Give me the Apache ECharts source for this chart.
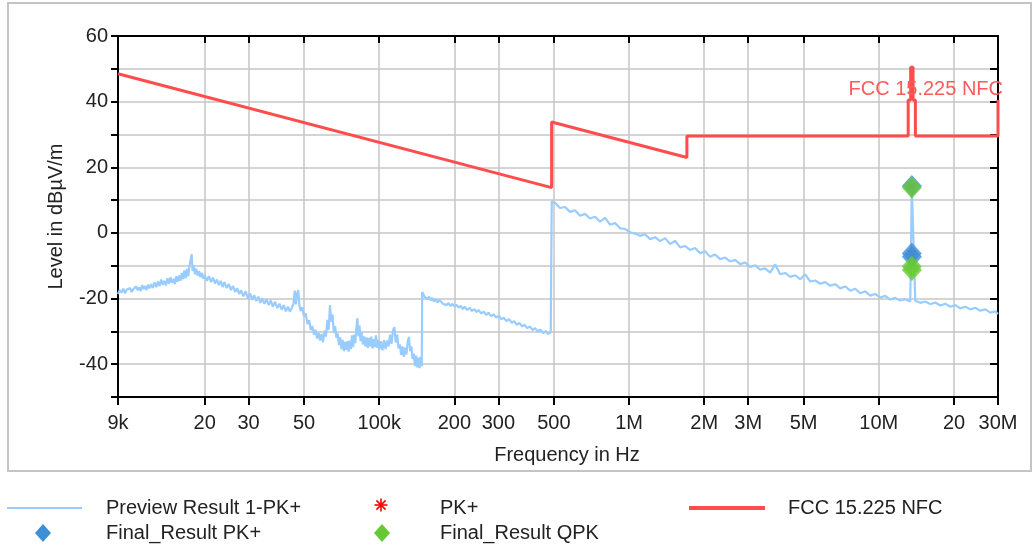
<!DOCTYPE html>
<html>
<head>
<meta charset="utf-8">
<script src="https://cdn.jsdelivr.net/npm/echarts@6/dist/echarts.min.js"></script>
<style>
html,body{margin:0;padding:0;background:#fff;}
#c{width:1033px;height:547px;}
</style>
</head>
<body>
<div id="c"></div>
<script>
// ---- data (frequencies in kHz, levels in dBµV/m) ----
const xTickValues = [9,20,30,50,100,200,300,500,1000,2000,3000,5000,10000,20000,30000];
const xTickLabels = ['9k','20','30','50','100k','200','300','500','1M','2M','3M','5M','10M','20','30M'];
const yTickLabels = [60,40,20,0,-20,-40];

const previewLowFreq = [9.00,9.15,9.30,9.45,9.60,9.75,9.90,10.05,10.20,10.35,10.50,10.65,10.80,10.95,11.10,11.25,11.40,11.55,11.70,11.85,12.00,12.20,12.40,12.60,12.80,13.00,13.20,13.40,13.60,13.80,14.00,14.20,14.40,14.60,14.80,15.00,15.20,15.40,15.60,15.80,16.00,16.20,16.40,16.60,16.80,17.00,17.20,17.40,17.60,17.75,17.90,18.10,18.30,18.50,18.75,19.00,19.25,19.50,19.75,20.00,
  20.4,20.8,21.2,21.6,22.0,22.4,22.8,23.2,23.6,24.0,24.5,25.0,25.5,26.0,26.5,27.0,27.5,28.0,28.6,29.2,29.8,30.4,31.0,31.6,32.2,32.8,33.4,34.0,34.7,35.4,36.1,36.8,37.5,38.3,39.1,39.9,40.7,41.5,42.3,43.1,43.9,44.7,45.4,45.9,46.4,46.9,47.4,47.9,48.4,
  49.2,50.0,50.8,51.6,52.4,53.2,54.0,54.8,55.6,56.4,57.2,58.0,58.8,59.6,60.4,61.2,62.0,62.8,63.5,64.2,65.0,65.8,66.6,67.4,68.2,69.0,69.8,70.6,71.4,72.2,73.0,73.8,74.6,75.4,76.2,77.0,77.8,78.6,79.4,80.2,81.0,81.8,82.6,83.4,84.2,85.0,86.0,87.0,88.0,89.0,90.0,91.0,92.0,93.0,94.0,95.0,96.0,97.0,98.0,99.0,100.0,101.5,103.0,104.5,106.0,107.5,109.0,110.5,112.0,113.5,115.0,116.5,118.0,119.5,121.0,122.5,124.0,125.5,127.0,128.5,130.0,131.5,133.0,134.5,136.0,137.5,139.0,140.5,142.0,143.5,145.0,146.5,148.0,148.4];
const previewLowLevel = [-18.6,-17.4,-18.2,-17.0,-18.4,-17.3,-17.9,-16.8,-18.0,-17.2,-17.6,-16.3,-17.5,-16.6,-17.7,-15.9,-17.1,-16.2,-17.4,-15.8,-16.9,-15.6,-16.8,-15.1,-16.5,-14.8,-16.2,-14.2,-15.8,-14.6,-16.0,-13.8,-15.5,-13.5,-15.2,-14.0,-15.6,-13.2,-14.9,-13.0,-14.6,-12.2,-14.1,-11.4,-13.8,-11.0,-13.2,-10.0,-8.0,-6.5,-11.6,-9.8,-12.6,-10.9,-13.0,-11.6,-13.5,-12.2,-14.0,-12.8,
  -14.6,-13.2,-15.0,-13.6,-15.4,-14.2,-15.9,-14.6,-16.5,-15.0,-16.8,-15.6,-17.4,-16.2,-18.0,-16.9,-18.6,-17.5,-19.3,-17.8,-20.0,-18.4,-20.4,-19.0,-20.8,-19.4,-21.3,-19.9,-21.6,-20.2,-22.0,-20.6,-22.5,-21.0,-22.9,-21.6,-23.4,-22.0,-23.9,-22.5,-24.0,-22.8,-21.5,-17.6,-21.8,-18.5,-17.4,-22.0,-23.8,
  -22.6,-25.5,-24.5,-27.8,-26.6,-29.6,-28.4,-31.0,-29.5,-32.2,-30.4,-32.8,-30.8,-33.3,-29.8,-31.6,-26.5,-29.5,-22.0,-27.0,-24.8,-30.5,-28.4,-32.0,-30.6,-34.2,-31.8,-35.4,-32.6,-36.0,-33.2,-35.6,-33.0,-36.2,-32.8,-35.4,-31.2,-34.8,-31.0,-33.6,-29.0,-26.0,-31.5,-28.2,-33.0,-30.2,-34.0,-31.5,-34.6,-31.8,-35.0,-32.0,-34.6,-31.6,-35.2,-32.4,-34.8,-31.2,-35.0,-32.6,-35.6,-33.0,-35.8,-32.6,-35.4,-32.8,-34.6,-31.0,-33.8,-29.8,-28.7,-33.4,-31.0,-35.2,-34.0,-37.2,-34.6,-37.8,-35.0,-37.0,-33.2,-31.7,-36.0,-34.6,-38.4,-36.8,-40.6,-37.4,-41.0,-38.0,-41.2,-37.8,-40.6,-40.0];

const previewMidFreq = [148.6,150.5,152.5,154.5,156.5,158.5,160.5,163,165.5,168,171,174,177,180,183,186,189.5,193,196.5,200,204,208,212,216,220,225,230,235,240,245,250,256,262,268,274,280,287,294,301,308,315,323,331,339,347,355,364,373,382,391,401,411,421,431,442,453,464,475,486,489.6];
const previewMidLevel = [-18.0,-18.6,-19.6,-19.0,-20.2,-19.4,-20.6,-19.8,-20.9,-20.2,-21.2,-20.4,-21.0,-21.6,-21.0,-22.0,-21.4,-22.3,-21.6,-22.4,-21.9,-22.8,-22.2,-23.2,-22.5,-23.5,-22.8,-23.8,-23.2,-24.1,-23.5,-24.5,-24.0,-25.0,-24.3,-25.4,-24.8,-25.8,-25.2,-26.3,-25.8,-26.9,-26.3,-27.4,-26.9,-28.0,-27.4,-28.5,-28.0,-29.0,-28.5,-29.6,-29.0,-30.0,-29.5,-30.5,-29.9,-30.8,-30.2,-30.6];

const previewHighFreq = [490.4,505.5,529.4,554.4,580.5,607.9,636.6,666.7,698.2,731.1,765.6,801.8,839.6,879.2,920.7,964.2,1009.7,1057.4,1107.3,1159.6,1214.3,1271.6,1331.7,1394.5,1460.4,1529.3,1601.5,1677.1,1756.2,1839.1,1925.9,2016.8,2112.0,2211.7,2316.1,2425.4,2539.9,2659.8,2785.3,2916.8,3054.5,3198.7,3349.6,3507.7,3673.3,3846.7,4028.3,4218.4,4417.5,4626.0,4844.4,5073.0,5312.5,5563.2,5825.8,6100.8,6388.8,6690.3,7006.1,7336.8,7683.1,8045.7,8425.5,8823.2,9239.6,9675.7,10132.4,10610.7,11111.5,11636.0,12185.2,12760.4,13362.7,13555,13565,13993.4,14653.9,15345.5,16069.9,16828.4,17622.7,18454.5,19325.6,20237.8,21193.0,22193.3,23240.9,24337.9,25486.7,26689.6,27949.4,29268.6,30000];
const previewHighLevel = [9.6,9.2,7.6,7.9,6.4,6.9,5.2,5.8,4.4,4.9,3.4,4.6,2.5,3.0,1.4,1.2,0.2,-0.2,-0.9,-0.4,-1.9,-1.3,-2.5,-1.6,-3.4,-2.4,-4.4,-4.0,-5.2,-4.6,-6.2,-5.6,-7.3,-6.6,-8.0,-7.5,-8.7,-8.2,-9.5,-9.0,-10.4,-9.9,-11.2,-10.8,-12.1,-9.6,-12.6,-12.2,-13.4,-12.9,-14.1,-12.6,-14.8,-14.5,-15.5,-15.0,-16.1,-15.6,-16.9,-16.3,-17.6,-17.0,-18.4,-17.8,-19.1,-18.6,-19.7,-19.2,-20.3,-19.8,-20.6,-20.2,-20.9,14.2,14.0,-20.7,-21.3,-20.9,-21.7,-21.2,-22.1,-21.6,-22.5,-22.0,-23.0,-22.5,-23.3,-22.8,-23.7,-23.3,-24.3,-23.9,-24.7];

const limitFreq  = [9,490,490,1705,1705,13110,13110,13410,13410,13710,13710,14010,14010,30000,30000];
const limitLevel = [48.5,13.8,33.8,23.0,29.5,29.5,40.5,40.5,50.5,50.5,40.5,40.5,29.5,29.5,40.5];

const pkFreq = [13560,13553];
const pkLevel = [14.2,-6.5];
const finalPkFreq  = [13560,13553,13567];
const finalPkLevel = [14.3,-6.3,-7.3];
const finalQpkFreq  = [13560,13553,13567];
const finalQpkLevel = [13.8,-10.2,-11.3];

// ---- build ----
const zip = (a,b) => a.map((v,i)=>[v,b[i]]);
const previewData = zip(previewLowFreq,previewLowLevel)
  .concat(zip(previewMidFreq,previewMidLevel))
  .concat(zip(previewHighFreq,previewHighLevel));

const FONT = 'Liberation Sans, Arial, sans-serif';
const RED = '#ff4d4d';
const LBLUE = '#99ccff';
const DBLUE = '#3d8fd6';
const GREEN = '#66c933';
const GRID = '#c6c6c6';
const ASTER = 'path://M5.2,0H6.8V12H5.2Z M0,5.2H12V6.8H0Z M1.2,2.3L2.3,1.2L10.8,9.7L9.7,10.8Z M9.7,1.2L10.8,2.3L2.3,10.8L1.2,9.7Z';

const chart = echarts.init(document.getElementById('c'), null, {renderer:'canvas'});
const baseX = {
  type:'log', logBase:10, min:9, max:30000,
  axisLine:{show:true, onZero:false, lineStyle:{color:'#000', width:2}},
};
const baseY = {
  type:'value', min:-50, max:60, interval:10,
  axisLine:{show:true, onZero:false, lineStyle:{color:'#000', width:2}},
};
function asteriskLines(cx, cy, r, color){
  const d = r*0.7071;
  return [
    {type:'line', shape:{x1:cx, y1:cy-r, x2:cx, y2:cy+r}, style:{stroke:color, lineWidth:1.6}},
    {type:'line', shape:{x1:cx-r, y1:cy, x2:cx+r, y2:cy}, style:{stroke:color, lineWidth:1.6}},
    {type:'line', shape:{x1:cx-d, y1:cy-d, x2:cx+d, y2:cy+d}, style:{stroke:color, lineWidth:1.6}},
    {type:'line', shape:{x1:cx+d, y1:cy-d, x2:cx-d, y2:cy+d}, style:{stroke:color, lineWidth:1.6}}
  ];
}
chart.setOption({
  animation:false,
  backgroundColor:'#fff',
  textStyle:{fontFamily:FONT},
  grid:{left:118, right:35, top:36, bottom:150, show:true, borderColor:GRID, borderWidth:1.5, containLabel:false},
  xAxis:[
    Object.assign({}, baseX, {
      name:'Frequency in Hz', nameLocation:'middle', nameGap:48,
      nameTextStyle:{fontSize:20, color:'#222', fontFamily:FONT, padding:[0,0,0,18]},
      axisTick:{show:true, inside:false, length:8, customValues:xTickValues, lineStyle:{color:'#000', width:2}},
      axisLabel:{customValues:xTickValues, margin:16, fontSize:20, color:'#222', fontFamily:FONT,
        formatter:(v)=>{const i=xTickValues.findIndex(t=>Math.abs(t-v)/t<1e-6);return i>=0?xTickLabels[i]:'';}},
      splitLine:{show:true, lineStyle:{color:GRID, width:1.5}},
      minorTick:{show:false}, minorSplitLine:{show:false}
    }),
    Object.assign({}, baseX, {
      axisTick:{show:true, inside:true, length:7, customValues:xTickValues, lineStyle:{color:'#000', width:2}},
      axisLabel:{show:false, customValues:xTickValues},
      splitLine:{show:false}
    })
  ],
  yAxis:[
    Object.assign({}, baseY, {
      name:'Level in dBµV/m', nameLocation:'middle', nameGap:52, nameRotate:90,
      nameTextStyle:{fontSize:20, color:'#222', fontFamily:FONT},
      axisTick:{show:true, inside:false, length:7, lineStyle:{color:'#000', width:2}},
      axisLabel:{margin:10, fontSize:20, color:'#222', fontFamily:FONT,
        formatter:(v)=> yTickLabels.indexOf(v)>=0 ? String(v) : ''},
      splitLine:{show:true, lineStyle:{color:GRID, width:1.5}}
    }),
    Object.assign({}, baseY, {
      axisTick:{show:true, inside:true, length:8, lineStyle:{color:'#000', width:2}},
      axisLabel:{show:false},
      splitLine:{show:false}
    })
  ],
  series:[
    {name:'Preview Result 1-PK+', type:'line', data:previewData, showSymbol:false, symbol:'none',
      lineStyle:{color:LBLUE, width:2.2}, z:2, silent:true},
    {name:'FCC 15.225 NFC', type:'line', data:zip(limitFreq,limitLevel), showSymbol:false, symbol:'none',
      lineStyle:{color:RED, width:3}, z:3, silent:true},
    {name:'PK+', type:'scatter', data:zip(pkFreq,pkLevel), symbol:ASTER, symbolSize:12,
      itemStyle:{color:'#ff0000'}, z:4, silent:true},
    {name:'Final_Result PK+', type:'scatter', data:zip(finalPkFreq,finalPkLevel), symbol:'diamond', symbolSize:[20,22],
      itemStyle:{color:DBLUE}, z:5, silent:true},
    {name:'Final_Result QPK', type:'scatter', data:zip(finalQpkFreq,finalQpkLevel), symbol:'diamond', symbolSize:[20,22],
      itemStyle:{color:GREEN}, z:6, silent:true}
  ],
  graphic:[
    {type:'rect', shape:{x:8, y:3, width:1023, height:468}, style:{fill:'none', stroke:'#c4c4c4', lineWidth:2}, z:-10, silent:true},
    {type:'text', x:1003, y:89, style:{text:'FCC 15.225 NFC', fill:'#ff5a5a', fontSize:20, fontFamily:FONT, align:'right', verticalAlign:'middle'}, z:10},
    // legend
    {type:'line', shape:{x1:7, y1:508, x2:82, y2:508}, style:{stroke:LBLUE, lineWidth:2}},
    {type:'text', x:106, y:508, style:{text:'Preview Result 1-PK+', fill:'#222', fontSize:20, fontFamily:FONT, verticalAlign:'middle'}},
    {type:'polygon', shape:{points:[[43,524],[51,533],[43,542],[35,533]]}, style:{fill:DBLUE}},
    {type:'text', x:106, y:533, style:{text:'Final_Result PK+', fill:'#222', fontSize:20, fontFamily:FONT, verticalAlign:'middle'}},
    ...asteriskLines(381, 505, 6.5, '#ff0000'),
    {type:'text', x:440, y:508, style:{text:'PK+', fill:'#222', fontSize:20, fontFamily:FONT, verticalAlign:'middle'}},
    {type:'polygon', shape:{points:[[382,524],[390,533],[382,542],[374,533]]}, style:{fill:GREEN}},
    {type:'text', x:440, y:533, style:{text:'Final_Result QPK', fill:'#222', fontSize:20, fontFamily:FONT, verticalAlign:'middle'}},
    {type:'line', shape:{x1:689, y1:508, x2:765, y2:508}, style:{stroke:RED, lineWidth:4}},
    {type:'text', x:788, y:508, style:{text:'FCC 15.225 NFC', fill:'#222', fontSize:20, fontFamily:FONT, verticalAlign:'middle'}}
  ]
});
</script>
</body>
</html>
